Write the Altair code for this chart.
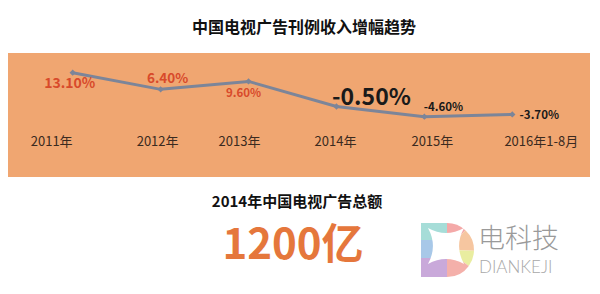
import altair as alt
import pandas as pd
import math

# ---- data ----
years = ["2011年", "2012年", "2013年", "2014年", "2015年", "2016年1-8月"]
growth = [13.1, 6.4, 9.6, -0.5, -4.6, -3.7]
growth_labels = ["13.10%", "6.40%", "9.60%", "-0.50%", "-4.60%", "-3.70%"]

title_text = "中国电视广告刊例收入增幅趋势"
sub_title = "2014年中国电视广告总额"
total_text = "1200亿"

df = pd.DataFrame({"year": years, "growth": growth, "label": growth_labels})
one = pd.DataFrame({"a": [0]})

FONT = "Noto Sans CJK SC"
W, H = 600, 294

xs = alt.X("year:N", sort=years, axis=None,
           scale=alt.Scale(type="point", range=[72.7, 512.3], padding=0))
ys = alt.Y("growth:Q", axis=None,
           scale=alt.Scale(domain=[-4.6, 13.1], range=[116.7, 72.7], zero=False, nice=False))

# orange panel
panel = alt.Chart(one).mark_rect(color="#F0A671").encode(
    x=alt.value(8), x2=alt.value(590), y=alt.value(53), y2=alt.value(177))

line = alt.Chart(df).mark_line(color="#7C8599", strokeWidth=3).encode(x=xs, y=ys)
pts = alt.Chart(df).mark_point(shape="diamond", filled=True, color="#7C8599",
                               size=40, opacity=1).encode(x=xs, y=ys)

layers = [panel, line, pts]

# per-label styles (offsets from the point, font size, colour)
label_styles = [
    dict(dx=-3, dy=11, size=14, color="#D84A2B"),
    dict(dx=7, dy=-10, size=13.5, color="#D84A2B"),
    dict(dx=-5, dy=13, size=11.5, color="#D84A2B"),
    dict(dx=35, dy=-9, size=23, color="#1A1A1A"),
    dict(dx=19, dy=-9, size=11.5, color="#1A1A1A"),
    dict(dx=27, dy=2, size=11.5, color="#1A1A1A"),
]
for yr, st in zip(years, label_styles):
    layers.append(
        alt.Chart(df).transform_filter(alt.datum.year == yr).mark_text(
            font=FONT, fontWeight="bold", fontSize=st["size"], color=st["color"],
            dx=st["dx"], dy=st["dy"], align="center", baseline="middle"
        ).encode(x=xs, y=ys, text="label:N")
    )

# category labels (offset from the point positions)
cat_dx = [-21, -3, -9, -1, 8, 29]
for yr, dx in zip(years, cat_dx):
    layers.append(
        alt.Chart(df).transform_filter(alt.datum.year == yr).mark_text(
            font=FONT, fontSize=13, color="#3A2A20", dx=dx,
            align="center", baseline="middle"
        ).encode(x=xs, y=alt.value(142), text="year:N")
    )

# titles
layers.append(alt.Chart(one).mark_text(
    text=title_text, font=FONT, fontWeight="bold", fontSize=16, color="#111111",
    align="center", baseline="middle").encode(x=alt.value(304), y=alt.value(28)))
layers.append(alt.Chart(one).mark_text(
    text=sub_title, font=FONT, fontWeight="bold", fontSize=15, color="#111111",
    align="center", baseline="middle").encode(x=alt.value(297), y=alt.value(202)))
layers.append(alt.Chart(one).mark_text(
    text=total_text, font=FONT, fontWeight="bold", fontSize=42, color="#E5773C",
    align="center", baseline="middle").encode(x=alt.value(293), y=alt.value(246)))

# logo (decorative)
cx, cy, r = 447, 250, 27
rects = [("#A6DDD8", 223, 240), ("#A8C8E8", 240, 258), ("#C9A9DA", 258, 277)]
for col, y1, y2 in rects:
    layers.append(alt.Chart(one).mark_rect(color=col).encode(
        x=alt.value(421), x2=alt.value(cx), y=alt.value(y1), y2=alt.value(y2)))
arcs = [("#F4A9A8", 0.0, 0.75), ("#F6C6A0", 0.75, 1.6),
        ("#E9EDA0", 1.6, 2.2), ("#F4B0AA", 2.2, math.pi)]
for col, t1, t2 in arcs:
    layers.append(alt.Chart(one).mark_arc(radius=r).encode(
        x=alt.value(cx), y=alt.value(cy), theta=alt.value(t1), theta2=alt.value(t2),
        color=alt.value(col)))
layers.append(alt.Chart(one).mark_point(
    shape="M-1,-1 Q0,-0.45 1,-1 Q0.45,0 1,1 Q0,0.45 -1,1 Q-0.45,0 -1,-1 Z",
    filled=True, color="white", opacity=1, size=1300).encode(
    x=alt.value(446), y=alt.value(246)))
layers.append(alt.Chart(one).mark_text(
    text="电科技", font=FONT, fontWeight=300, fontSize=27, color="#9A9A9A",
    align="left", baseline="middle").encode(x=alt.value(478), y=alt.value(240)))
layers.append(alt.Chart(one).mark_text(
    text="DIANKEJI", font="Lato", fontWeight=300, fontSize=17, color="#A8A8A8",
    align="left", baseline="middle").encode(x=alt.value(479), y=alt.value(268)))

chart = alt.layer(*layers).properties(
    width=W, height=H, padding=0, autosize=alt.AutoSizeParams(type="none"),
    background="white"
).configure_view(stroke=None)

chart.save("out.html", embed_options={"renderer": "svg", "actions": False})
